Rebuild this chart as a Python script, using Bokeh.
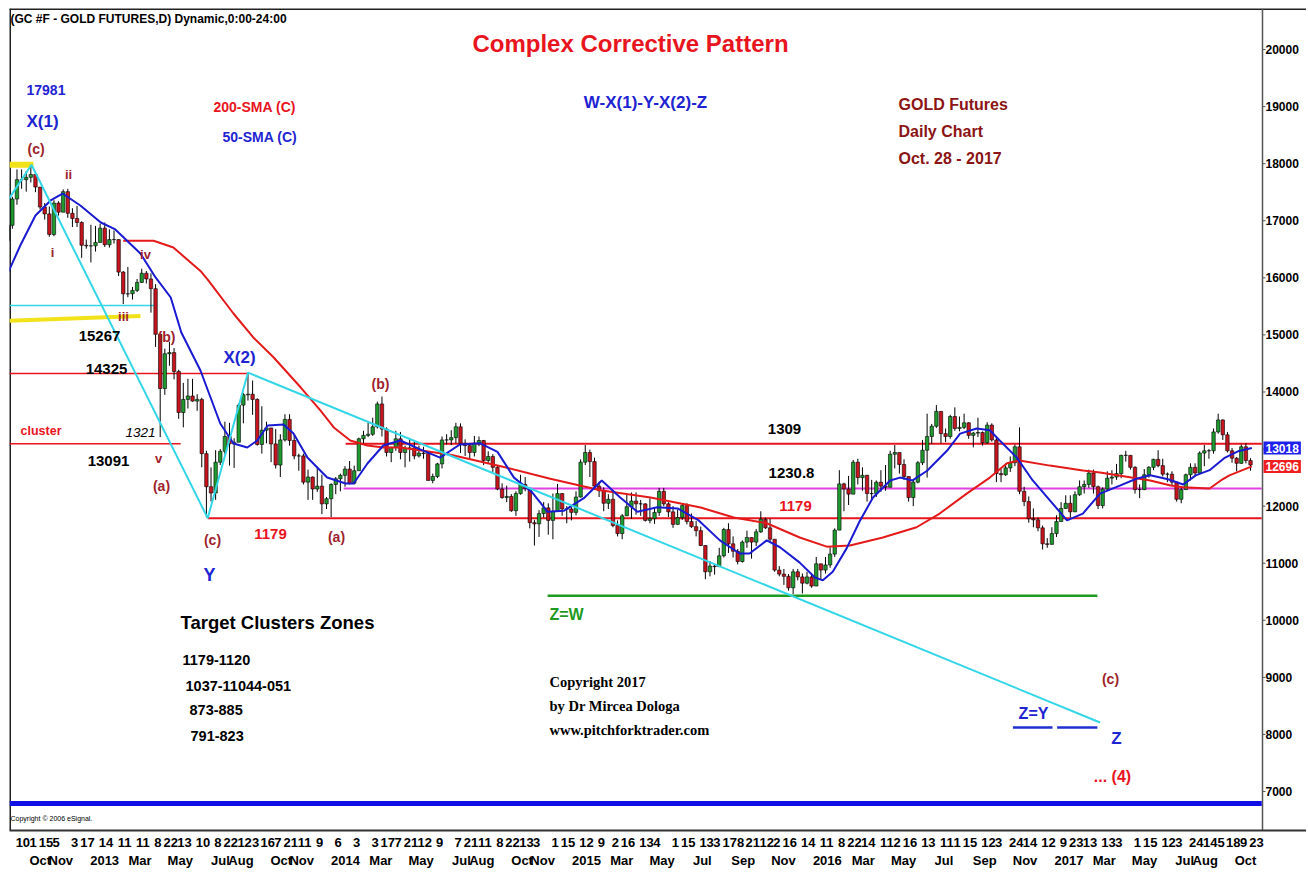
import datetime as dt
from bokeh.plotting import figure
from bokeh.models import (ColumnDataSource, Range1d, LinearAxis, FixedTicker, Label, AllLabels)
from bokeh.core.properties import value
from bokeh.embed import file_html
from bokeh.resources import INLINE

EPOCH = dt.date(2012, 10, 4)
def day(s):
    return float((dt.date.fromisoformat(s) - EPOCH).days)

# ---------------- DATA (weekly OHLC, US$/oz) ----------------
WEEK_START = "2012-08-27"
FIRST_OPEN = 1665
close_2012 = [1692,1738,1772,1772,1776,1781,1759,1724,1712,1676,1731,1715,1751,1713,1704,1697,1657,1656,1656]
high_2012 = [1694,1742,1790,1790,1787,1798,1785,1757,1731,1725,1736,1734,1755,1756,1722,1726,1699,1667,1693]
low_2012 = [1652,1686,1728,1756,1751,1767,1750,1720,1702,1672,1673,1709,1721,1705,1689,1689,1635,1651,1627]
close_2013 = [1662,1687,1658,1667,1667,1610,1572,1572,1578,1592,1608,1598,1581,1501,1406,1467,1469,1436,1364,1387,
              1393,1384,1387,1292,1234,1223,1277,1296,1322,1309,1312,1377,1395,1396,1387,1308,1333,1337,1309,1272,
              1316,1352,1315,1288,1288,1242,1251,1230,1235,1204,1213,1238]
high_2013 = [1691,1695,1697,1685,1683,1667,1612,1619,1584,1598,1616,1612,1608,1589,1444,1476,1488,1477,1439,1416,
             1423,1423,1396,1390,1297,1268,1298,1300,1348,1346,1319,1380,1398,1434,1420,1389,1375,1348,1336,1335,
             1326,1361,1361,1325,1292,1292,1264,1252,1268,1255,1216,1240]
low_2013 = [1646,1662,1654,1653,1660,1603,1554,1566,1562,1575,1591,1590,1539,1479,1321,1395,1446,1422,1353,1338,
            1371,1383,1367,1268,1180,1208,1211,1272,1291,1271,1267,1313,1345,1385,1360,1306,1292,1310,1277,1266,
            1251,1313,1306,1282,1262,1238,1211,1211,1225,1186,1195,1181]
close_2014 = [1248,1254,1265,1240,1262,1318,1324,1326,1339,1379,1335,1294,1303,1318,1294,1301,1302,1288,1293,1292,
              1245,1252,1274,1316,1316,1320,1339,1310,1306,1294,1310,1315,1280,1287,1268,1230,1215,1217,1192,1222,
              1238,1231,1171,1169,1187,1197,1175,1191,1222,1195,1195,1189]
high_2014 = [1251,1257,1270,1279,1271,1320,1332,1346,1355,1383,1392,1338,1304,1332,1330,1306,1316,1316,1306,1304,
             1295,1257,1276,1322,1326,1333,1346,1345,1317,1310,1323,1322,1316,1296,1291,1272,1240,1236,1221,1226,
             1255,1251,1233,1176,1193,1207,1205,1222,1239,1223,1200,1200]
low_2014 = [1221,1226,1234,1238,1238,1268,1307,1321,1323,1336,1322,1287,1277,1297,1282,1268,1278,1282,1285,1283,
            1245,1240,1249,1266,1308,1307,1310,1293,1288,1281,1287,1305,1272,1276,1260,1228,1213,1207,1190,1183,
            1220,1226,1161,1131,1146,1180,1150,1142,1190,1183,1170,1175]
close_2015 = [1216,1277,1294,1278,1235,1227,1205,1212,1166,1152,1183,1199,1209,1204,1204,1175,1178,1189,1226,1204,
              1190,1168,1180,1201,1173,1164,1157,1131,1085,1095,1094,1113,1159,1134,1121,1103,1137,1145,1137,1155,
              1177,1162,1142,1088,1081,1077,1057,1085,1076,1065,1076,1060]
high_2015 = [1226,1282,1307,1299,1285,1243,1233,1221,1224,1175,1186,1220,1224,1224,1211,1205,1214,1197,1232,1232,
             1207,1200,1194,1205,1205,1187,1174,1164,1132,1104,1097,1127,1162,1170,1147,1125,1140,1157,1142,1160,
             1191,1180,1178,1142,1095,1090,1081,1090,1090,1082,1085,1082]
low_2015 = [1184,1215,1272,1251,1232,1216,1191,1195,1163,1147,1142,1183,1178,1185,1183,1173,1170,1169,1183,1200,
            1181,1162,1172,1176,1168,1162,1147,1130,1072,1077,1080,1094,1110,1118,1110,1098,1101,1127,1108,1130,
            1153,1160,1137,1085,1077,1062,1052,1046,1070,1047,1063,1057]
close_2016 = [1099,1088,1097,1116,1158,1239,1230,1221,1277,1250,1254,1222,1222,1242,1235,1233,1291,1294,1273,1252,
              1215,1242,1276,1298,1322,1340,1366,1327,1322,1357,1336,1338,1346,1324,1328,1329,1311,1342,1316,1257,
              1255,1267,1276,1304,1226,1208,1178,1176,1162,1134,1133,1152]
high_2016 = [1111,1098,1111,1128,1161,1263,1241,1253,1281,1283,1268,1255,1246,1245,1263,1272,1297,1307,1279,1282,
             1252,1246,1279,1316,1362,1344,1377,1366,1336,1360,1373,1357,1362,1347,1330,1355,1331,1347,1345,1321,
             1266,1275,1287,1308,1338,1234,1217,1196,1180,1166,1144,1163]
low_2016 = [1061,1072,1082,1092,1111,1158,1191,1202,1225,1238,1227,1208,1211,1216,1225,1227,1234,1266,1257,1246,
            1208,1200,1240,1272,1250,1309,1337,1310,1312,1318,1332,1331,1335,1318,1303,1321,1306,1309,1313,1242,
            1242,1253,1260,1270,1221,1200,1171,1163,1156,1124,1127,1133]
close_2017 = [1173,1196,1205,1190,1220,1234,1238,1258,1234,1201,1230,1249,1251,1257,1289,1289,1268,1229,1229,1255,
              1268,1282,1271,1256,1256,1242,1212,1229,1255,1268,1258,1293,1297,1297,1330,1351,1325,1297,1284,1275,
              1304,1280,1272]
high_2017 = [1184,1207,1219,1219,1226,1245,1245,1264,1264,1236,1233,1261,1263,1274,1290,1297,1286,1270,1238,1265,
             1270,1283,1298,1283,1259,1261,1242,1235,1257,1275,1275,1296,1307,1300,1336,1362,1352,1330,1302,1286,
             1308,1310,1284]
low_2017 = [1146,1176,1195,1180,1190,1218,1222,1232,1222,1195,1196,1228,1238,1246,1249,1278,1264,1222,1214,1228,
            1250,1263,1268,1252,1242,1236,1208,1205,1229,1245,1253,1258,1270,1283,1292,1327,1316,1294,1276,1261,
            1274,1275,1262]

# 50-day SMA (blue) and 200-day SMA (red)
sma50_dates = ["2012-08-29","2012-09-17","2012-10-10","2012-11-02","2012-11-20","2012-12-17","2013-01-17","2013-02-08",
               "2013-03-18","2013-04-10","2013-05-03","2013-05-19","2013-06-17","2013-07-17","2013-08-06","2013-08-27",
               "2013-09-11","2013-09-27","2013-10-21","2013-11-05","2013-11-26","2013-12-26","2014-01-23","2014-02-04",
               "2014-02-25","2014-03-21","2014-04-16","2014-05-15","2014-06-15","2014-07-15","2014-08-15","2014-09-10",
               "2014-10-05","2014-11-01","2014-11-25","2014-12-20","2015-01-20","2015-02-15","2015-03-15","2015-04-10",
               "2015-05-10","2015-06-10","2015-07-12","2015-08-13","2015-09-12","2015-09-27","2015-10-23","2015-11-12",
               "2015-12-12","2016-01-04","2016-01-16","2016-01-31","2016-02-21","2016-03-12","2016-04-01","2016-04-27",
               "2016-05-12","2016-05-31","2016-06-22","2016-07-22","2016-08-11","2016-09-05","2016-09-25","2016-10-10",
               "2016-11-05","2016-11-29","2016-12-25","2017-01-20","2017-02-13","2017-03-11","2017-04-10","2017-05-05",
               "2017-05-26","2017-06-22","2017-07-15","2017-08-03","2017-08-24","2017-09-15","2017-10-06","2017-10-27"]
sma50_vals = [1607.6,1656.6,1709.2,1735.5,1747.7,1726.7,1696.9,1684.7,1642.7,1600.6,1565.5,1504.2,1437.6,1344.8,1309.8,1302.7,
              1315.0,1341.3,1343.0,1327.3,1285.2,1250.2,1239.7,1239.7,1274.7,1306.2,1315.0,1300,1285,1308,1310,1295,
              1250,1225,1190,1192,1215,1245,1215,1190,1198,1196,1175,1140,1117,1117,1140,1128,
              1101,1075,1070,1085,1126,1174,1215,1245,1250,1245,1262,1297,1327,1336,1333,1315,
              1285,1245,1210,1175,1187,1222,1236,1248,1254,1247,1238,1254,1263,1284,1296,1301.8]
sma200_dates = ["2013-02-20","2013-04-07","2013-05-07","2013-06-17","2013-06-28","2013-08-06","2013-09-05","2013-10-06",
                "2013-11-16","2013-12-16","2014-01-05","2014-01-30","2014-02-25","2014-03-21","2014-04-16","2014-07-01",
                "2014-09-15","2014-11-29","2015-02-13","2015-04-30","2015-07-15","2015-09-03","2015-10-23","2015-12-12",
                "2016-01-22","2016-02-26","2016-04-16","2016-06-06","2016-07-11","2016-08-21","2016-09-25","2016-10-21",
                "2016-11-09","2016-12-25","2017-02-13","2017-03-11","2017-05-26","2017-06-26","2017-07-15","2017-08-24",
                "2017-09-10","2017-09-23","2017-10-27"]
sma200_vals = [1665,1665,1653,1612,1597,1537.5,1495.5,1460.4,1407.8,1367.5,1337.8,1315.0,1306.2,1302.7,1302.7,1290,
               1270,1248,1228,1215,1197.6,1180,1170,1145,1129,1131,1145,1163,1187,1222,1250,1275,
               1280,1271,1262.5,1259,1245,1236,1233,1231,1245,1254,1269.6]

# Elliott-wave trend line (cyan) pivots
cyan_dates = ["2012-08-29","2012-10-04","2013-06-28","2013-08-28","2017-03-11"]
cyan_prices = [1735.5,1798.1,1179.0,1434.0,821.0]

# Horizontal levels: start, end, start price, end price, colour, width
lvl_start = ["2012-08-20","2012-08-20","2012-08-20","2012-08-20","2012-08-20","2014-01-23","2013-06-28","2014-01-20",
             "2014-11-25","2016-10-30","2017-01-05","2012-08-20"]
lvl_end = ["2012-10-07","2013-03-18","2013-04-10","2013-08-28","2013-05-18","2017-11-11","2017-11-11","2017-11-11",
           "2017-03-07","2016-12-29","2017-03-07","2017-11-11"]
lvl_p0 = [1798.1,1525.0,1551.5,1432.5,1309.1,1309.1,1179.0,1230.8,1043.0,812.2,812.2,679.0]
lvl_p1 = [1798.1,1533.0,1551.5,1432.5,1309.1,1309.1,1179.0,1230.8,1043.0,812.2,812.2,679.0]
lvl_color = ["#F2E21A","#F2E21A","#33D6E6","#E8141E","#E8141E","#E8141E","#E8141E","#E040E0",
             "#1E9A1E","#2030D0","#2030D0","#1010E6"]
lvl_width = [6,4,1.5,1.5,1.5,2,2,2,2.5,2.5,2.5,5]

price_ticks = [700,800,900,1000,1100,1200,1300,1400,1500,1600,1700,1800,1900,2000]
price_tick_labels = ["7000","8000","9000","10000","11000","12000","13000","14000","15000","16000","17000","18000","19000","20000"]

day_tick_dates = ["2012-09-10","2012-10-01","2012-10-15","2012-11-05","2012-12-03","2012-12-17",
    "2013-01-14","2013-02-11","2013-03-11","2013-04-08","2013-04-22","2013-05-13","2013-06-10","2013-07-08","2013-07-22",
    "2013-08-12","2013-09-03","2013-09-16","2013-10-07","2013-10-21","2013-11-11","2013-12-09",
    "2014-01-06","2014-02-03","2014-03-03","2014-03-17","2014-04-07","2014-04-21","2014-05-12","2014-06-09","2014-07-07",
    "2014-07-21","2014-08-11","2014-09-08","2014-09-22","2014-10-13","2014-11-03","2014-12-01","2014-12-15",
    "2015-01-12","2015-02-09","2015-03-02","2015-03-16","2015-04-13","2015-05-04","2015-06-01","2015-06-15","2015-07-13",
    "2015-08-03","2015-08-17","2015-09-08","2015-09-21","2015-10-12","2015-11-02","2015-11-16","2015-12-14",
    "2016-01-11","2016-02-08","2016-02-22","2016-03-14","2016-04-11","2016-05-02","2016-05-16","2016-06-13","2016-07-11",
    "2016-08-01","2016-08-15","2016-09-12","2016-10-03","2016-10-24","2016-11-14","2016-12-12",
    "2017-01-09","2017-01-23","2017-02-13","2017-03-13","2017-04-03","2017-05-01","2017-05-15","2017-06-12","2017-07-03",
    "2017-07-24","2017-08-14","2017-09-05","2017-09-18","2017-10-09","2017-10-23"]
month_tick_dates = ["2012-10-01","2012-11-01","2013-01-01","2013-03-01","2013-05-01","2013-07-01","2013-08-01","2013-10-01",
    "2013-11-01","2014-01-01","2014-03-01","2014-05-01","2014-07-01","2014-08-01","2014-10-01","2014-11-01","2015-01-01",
    "2015-03-01","2015-05-01","2015-07-01","2015-09-01","2015-11-01","2016-01-01","2016-03-01","2016-05-01","2016-07-01",
    "2016-09-01","2016-11-01","2017-01-01","2017-03-01","2017-05-01","2017-07-01","2017-08-01","2017-10-01"]
month_tick_labels = ["Oct","Nov","2013","Mar","May","Jul","Aug","Oct","Nov","2014","Mar","May","Jul","Aug","Oct","Nov",
    "2015","Mar","May","Jul","Sep","Nov","2016","Mar","May","Jul","Sep","Nov","2017","Mar","May","Jul","Aug","Oct"]

last_sma50 = 1301.8
last_sma200 = 1269.6

# ---------------- BUILD ----------------
closes = close_2012 + close_2013 + close_2014 + close_2015 + close_2016 + close_2017
highs = high_2012 + high_2013 + high_2014 + high_2015 + high_2016 + high_2017
lows = low_2012 + low_2013 + low_2014 + low_2015 + low_2016 + low_2017
opens = [FIRST_OPEN] + closes[:-1]
w0 = day(WEEK_START)
xs = [w0 + 7 * i + 2 for i in range(len(closes))]
hi = [max(h, o, c) for h, o, c in zip(highs, opens, closes)]
lo = [min(l, o, c) for l, o, c in zip(lows, opens, closes)]
top = [max(o, c) for o, c in zip(opens, closes)]
bot = [min(o, c) for o, c in zip(opens, closes)]
col = ["#1E9A2E" if c >= o else "#C8141E" for o, c in zip(opens, closes)]
src = ColumnDataSource(dict(x=xs, hi=hi, lo=lo, top=top, bot=bot, col=col))

# pixel geometry of the reference: x px = 31 + 0.66*day ; y px = 49 + 0.5708*(2000-price)
KX, X0PX = 0.66, 31.0
KY, Y0PX = 0.5708, 49.0
W, H = 1306, 873
FL, FR, FT, FB = 9, W, 8, 830
def dx(px):
    return (px - X0PX) / KX
def vy(py):
    return 2000 - (py - Y0PX) / KY
XS, XE = dx(FL), dx(FR)
YT, YB = vy(FT), vy(FB)
AXIS_PX = 1262

p = figure(width=W, height=H, output_backend="svg", toolbar_location=None,
           x_range=Range1d(XS, XE), y_range=Range1d(YB, YT),
           x_axis_location=None, y_axis_location=None,
           min_border_left=FL, min_border_top=FT,
           min_border_right=0, min_border_bottom=H - FB)
p.grid.visible = False
p.outline_line_color = None
p.background_fill_color = "white"
p.border_fill_color = "white"

SANS = "Liberation Sans"

def label_w(s, per):
    return len(s) * per / KX

day_labels = [str(int(d[-2:])) for d in day_tick_dates]
day_ticks = [round(day(d) + label_w(l, 3.6), 3) for d, l in zip(day_tick_dates, day_labels)]
month_ticks = [round(day(d) + label_w(l, 3.6), 3) for d, l in zip(month_tick_dates, month_tick_labels)]

ax1 = LinearAxis(ticker=FixedTicker(ticks=day_ticks),
                 major_label_overrides=dict(zip(day_ticks, day_labels)),
                 major_label_policy=AllLabels())
ax2 = LinearAxis(ticker=FixedTicker(ticks=month_ticks),
                 major_label_overrides=dict(zip(month_ticks, month_tick_labels)),
                 major_label_policy=AllLabels())
for ax, so in ((ax1, 7), (ax2, 3)):
    ax.major_tick_out = 0
    ax.major_tick_in = 0
    ax.minor_tick_out = 0
    ax.minor_tick_in = 0
    ax.major_label_standoff = so
    ax.major_label_text_font = SANS
    ax.major_label_text_font_style = "bold"
    ax.major_label_text_font_size = "13px"
    ax.major_label_text_color = "black"
ax1.axis_line_color = "#333333"
ax1.axis_line_width = 2
ax2.axis_line_color = None
p.add_layout(ax1, "below")
p.add_layout(ax2, "below")

# frame borders and the price-axis line
xa = dx(AXIS_PX)
bsrc = ColumnDataSource(dict(x0=[XS, XS, xa], y0=[YB, YT, YB], x1=[XS, XE, xa], y1=[YT, YT, YT],
                             c=["#222222", "#222222", "#555555"], w=[3, 3, 1.5]))
p.segment(x0="x0", y0="y0", x1="x1", y1="y1", line_color="c", line_width="w", source=bsrc)

# levels
lsrc = ColumnDataSource(dict(x0=[max(day(s), XS) for s in lvl_start], x1=[min(day(e), xa) for e in lvl_end],
                             y0=lvl_p0, y1=lvl_p1, c=lvl_color, w=lvl_width))
p.segment(x0="x0", y0="y0", x1="x1", y1="y1", line_color="c", line_width="w", source=lsrc)

# candles
p.segment(x0="x", y0="lo", x1="x", y1="hi", line_color="black", line_width=1, source=src)
p.vbar(x="x", width=5.2, top="top", bottom="bot", fill_color="col", line_color="black", line_width=0.6, source=src)

# moving averages
p.line([day(d) for d in sma200_dates], sma200_vals, line_color="#E41A1A", line_width=2)
p.line([day(d) for d in sma50_dates], sma50_vals, line_color="#1A1AD2", line_width=2)

# trend line
p.line([day(d) for d in cyan_dates], cyan_prices, line_color="#33D6E6", line_width=2)

# price scale (right)
tsrc = ColumnDataSource(dict(x=[dx(AXIS_PX + 3)] * len(price_ticks), y=price_ticks, t=price_tick_labels))
p.text(x="x", y="y", text="t", source=tsrc, text_align="left", text_baseline="middle",
       text_font=value(SANS), text_font_style="bold", text_font_size="12px", text_color="black")
ticksrc = ColumnDataSource(dict(x0=[xa] * len(price_ticks), x1=[dx(AXIS_PX + 3)] * len(price_ticks), y=price_ticks))
p.segment(x0="x0", y0="y", x1="x1", y1="y", line_color="#555555", line_width=1, source=ticksrc)

DR = "#9E1F2C"
RED = "#E8141E"
BLUE = "#1E24D2"
BLK = "black"
GRN = "#1E9A1E"
GF = "#8B1414"

def L(text, px, py, color, size, align="center", style="bold", font=SANS):
    p.add_layout(Label(x=dx(px), y=vy(py), text=text,
                       text_align=align, text_baseline="middle", text_color=color,
                       text_font_size=f"{size}px", text_font_style=style, text_font=font))

L("(GC #F - GOLD FUTURES,D) Dynamic,0:00-24:00", 10, 18, BLK, 12, "left")
L("Complex Corrective Pattern", 630, 43, RED, 24)
L("W-X(1)-Y-X(2)-Z", 645, 102, BLUE, 17)
L("GOLD Futures", 898, 104, GF, 16, "left")
L("Daily Chart", 898, 131, GF, 16, "left")
L("Oct. 28 -  2017", 898, 158, GF, 16, "left")
L("200-SMA (C)", 213, 106, RED, 14, "left")
L("50-SMA (C)", 222, 136, BLUE, 14, "left")
L("17981", 26, 89, BLUE, 14, "left")
L("X(1)", 26, 121, BLUE, 17, "left")
L("(c)", 27, 148, DR, 14, "left")
L("ii", 68, 174, DR, 13)
L("i", 52, 252, DR, 13)
L("iv", 145, 254, DR, 13)
L("iii", 123, 316, DR, 13)
L("15267", 99, 335, BLK, 15)
L("14325", 106, 368, BLK, 15)
L("(b)", 166, 336, DR, 14)
L("X(2)", 239, 357, BLUE, 17)
L("(b)", 380, 383, DR, 14)
L("cluster", 20, 430, RED, 12.5, "left")
L("1321", 140, 432, BLK, 13.5, style="italic")
L("13091", 108, 460, BLK, 15)
L("v", 158, 458, DR, 13)
L("(a)", 161, 485, DR, 14)
L("(c)", 212, 539, DR, 14)
L("1179", 270, 533, RED, 15)
L("(a)", 336, 536, DR, 14)
L("Y", 209, 574, BLUE, 18)
L("1309", 784, 428, BLK, 15)
L("1230.8", 791, 472, BLK, 15)
L("1179", 795, 505, RED, 15)
L("Z=W", 549, 614, GRN, 16, "left")
L("Target Clusters Zones", 180, 622, BLK, 18.5, "left")
L("1179-1120", 182, 659, BLK, 14.5, "left")
L("1037-11044-051", 185, 685, BLK, 14.5, "left")
L("873-885", 189, 709, BLK, 14.5, "left")
L("791-823", 190, 735, BLK, 14.5, "left")
L("Copyright 2017", 549, 681, BLK, 14.5, "left", "bold", "Liberation Serif")
L("by Dr Mircea Dologa", 549, 705, BLK, 14.5, "left", "bold", "Liberation Serif")
L("www.pitchforktrader.com", 549, 729, BLK, 14.5, "left", "bold", "Liberation Serif")
L("(c)", 1110, 678, DR, 14)
L("Z=Y", 1033, 713, BLUE, 16)
L("Z", 1116, 738, BLUE, 17)
L("... (4)", 1112, 776, RED, 16)
L("Copyright \u00a9 2006 eSignal.", 10, 818, BLK, 7, "left", "normal")

for val, bg in ((last_sma50, "#1E1EF0"), (last_sma200, "#F01E1E")):
    p.add_layout(Label(x=dx(AXIS_PX + 1), y=val, text=f"{val * 10:.0f}", text_align="left",
                       text_baseline="middle", text_color="white", text_font=SANS,
                       text_font_style="bold", text_font_size="12px",
                       background_fill_color=bg, padding=2))

open("out.html", "w").write(file_html(p, INLINE))
